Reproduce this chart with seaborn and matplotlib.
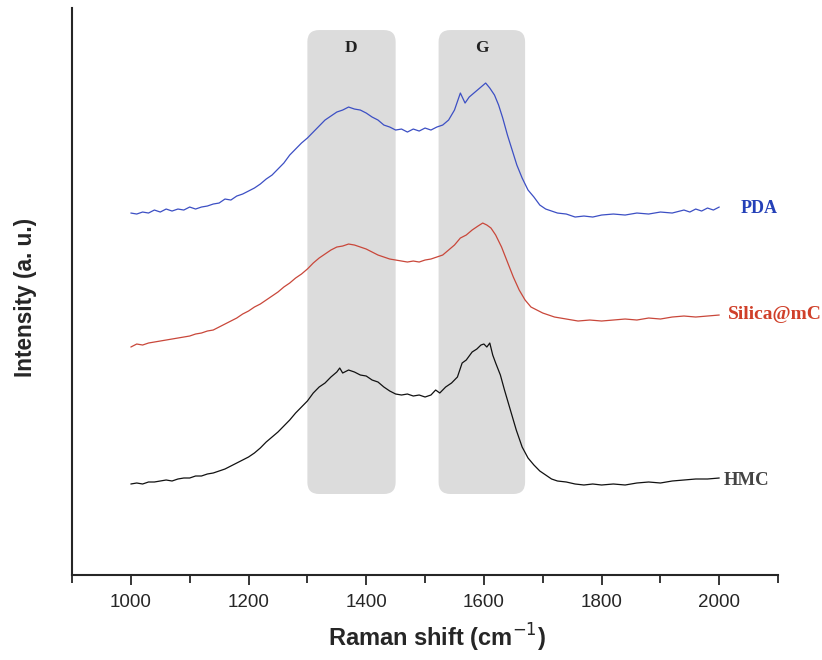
import numpy as np
import pandas as pd
import seaborn as sns
from matplotlib import pyplot as plt
from matplotlib.patches import FancyBboxPatch

# 数据（从图中读取，强度为任意单位）
pda_x = [1000, 1010, 1020, 1030, 1040, 1050, 1060, 1070, 1080, 1090, 1100, 1110, 1120, 1130,
         1140, 1150, 1160, 1170, 1180, 1190, 1200, 1210, 1220, 1230, 1240, 1250, 1260, 1270,
         1280, 1290, 1300, 1310, 1320, 1330, 1340, 1350, 1360, 1370, 1380, 1390, 1400, 1410,
         1420, 1430, 1440, 1450, 1460, 1470, 1480, 1490, 1500, 1510, 1520, 1530, 1540, 1550,
         1560, 1568, 1575, 1585, 1595, 1603, 1610, 1618, 1625, 1632, 1640, 1648, 1656, 1665,
         1675, 1685, 1695, 1705, 1715, 1725, 1740, 1755, 1770, 1785, 1800, 1820, 1840, 1860,
         1880, 1900, 1920, 1940, 1950, 1960, 1970, 1980, 1990, 2000]
pda_y = [362, 361, 363, 362, 365, 363, 366, 364, 366, 365, 368, 366, 368, 369,
         371, 372, 376, 375, 379, 381, 384, 387, 391, 396, 400, 406, 412, 420,
         426, 432, 437, 443, 449, 455, 459, 463, 465, 468, 466, 465, 462, 458,
         455, 450, 448, 445, 446, 443, 446, 444, 447, 445, 448, 450, 455, 465,
         482, 472, 478, 483, 488, 492, 487, 480, 470, 457, 440, 425, 410, 397,
         385, 378, 370, 366, 364, 362, 361, 358, 359, 358, 360, 361, 360, 362,
         361, 363, 362, 365, 363, 366, 364, 367, 365, 368]

silica_x = [1000, 1010, 1020, 1030, 1040, 1050, 1060, 1070, 1080, 1090, 1100, 1110, 1120, 1130,
            1140, 1150, 1160, 1170, 1180, 1190, 1200, 1210, 1220, 1230, 1240, 1250, 1260, 1270,
            1280, 1290, 1300, 1310, 1320, 1330, 1340, 1350, 1360, 1370, 1380, 1390, 1400, 1410,
            1420, 1430, 1440, 1450, 1460, 1470, 1480, 1490, 1500, 1510, 1520, 1530, 1540, 1550,
            1560, 1570, 1580, 1590, 1598, 1605, 1612, 1620, 1630, 1640, 1650, 1660, 1670, 1680,
            1690, 1700, 1710, 1720, 1740, 1760, 1780, 1800, 1820, 1840, 1860, 1880, 1900, 1920,
            1940, 1960, 1980, 2000]
silica_y = [228, 231, 230, 232, 233, 234, 235, 236, 237, 238, 239, 241, 242, 244,
            245, 248, 251, 254, 257, 261, 264, 268, 271, 275, 279, 283, 288, 292,
            297, 301, 306, 312, 317, 321, 325, 328, 329, 331, 330, 328, 326, 323,
            320, 318, 316, 315, 314, 313, 314, 313, 315, 316, 318, 320, 325, 330,
            337, 340, 345, 349, 352, 350, 347, 340, 328, 313, 298, 285, 275, 268,
            265, 262, 260, 258, 256, 254, 255, 254, 255, 256, 255, 257, 256, 258,
            259, 258, 259, 260]

hmc_x = [1000, 1010, 1020, 1030, 1040, 1050, 1060, 1070, 1080, 1090, 1100, 1110, 1120, 1130,
         1140, 1150, 1160, 1170, 1180, 1190, 1200, 1210, 1220, 1230, 1240, 1250, 1260, 1270,
         1280, 1290, 1300, 1310, 1320, 1330, 1340, 1350, 1355, 1360, 1370, 1380, 1390, 1400,
         1410, 1420, 1430, 1440, 1450, 1460, 1470, 1480, 1490, 1500, 1510, 1518, 1525, 1535,
         1545, 1555, 1563, 1570, 1580, 1588, 1595, 1600, 1605, 1610, 1615, 1620, 1628, 1635,
         1645, 1655, 1665, 1675, 1685, 1695, 1705, 1715, 1725, 1740, 1755, 1770, 1785, 1800,
         1820, 1840, 1860, 1880, 1900, 1920, 1940, 1960, 1980, 2000]
hmc_y = [91, 92, 91, 93, 93, 94, 95, 94, 96, 97, 97, 99, 99, 101,
         102, 104, 106, 109, 112, 115, 118, 122, 127, 133, 138, 143, 149, 155,
         162, 168, 174, 182, 188, 192, 198, 203, 207, 202, 205, 203, 200, 199,
         195, 193, 188, 184, 181, 180, 181, 179, 180, 178, 180, 185, 182, 188,
         192, 198, 212, 215, 223, 226, 230, 231, 228, 232, 220, 212, 200, 185,
         165, 145, 128, 117, 110, 104, 100, 96, 94, 93, 91, 90, 91, 90,
         91, 90, 92, 93, 92, 94, 95, 96, 96, 97]

bands = ['D', 'G']
band_lo = [1300, 1523]
band_hi = [1450, 1670]

sns.set_style('ticks')
plt.rcParams['font.family'] = ['Liberation Sans', 'DejaVu Sans']
serif = ['Liberation Serif', 'DejaVu Serif']

fig = plt.figure(figsize=(8.22, 6.6), dpi=100)
ax = fig.add_axes([0.0876, 0.1288, 0.859, 0.859])

# 灰色圆角区域 D / G
for name, lo, hi in zip(bands, band_lo, band_hi):
    box = FancyBboxPatch((lo, 81), hi - lo, 464,
                         boxstyle='round,pad=0,rounding_size=20',
                         mutation_aspect=0.587, facecolor='#dcdcdc',
                         edgecolor='none', zorder=0)
    ax.add_patch(box)
    ax.text((lo + hi) / 2, 527, name, ha='center', va='center', fontsize=12.5,
            fontweight='bold', family=serif, color='#222222')

sns.lineplot(x=pda_x, y=pda_y, ax=ax, color='#3c4fc4', lw=0.9)
sns.lineplot(x=silica_x, y=silica_y, ax=ax, color='#c9473a', lw=0.9)
sns.lineplot(x=hmc_x, y=hmc_y, ax=ax, color='#111111', lw=0.9)

ax.text(2037, 367, 'PDA', color='#2440b8', fontsize=13, fontweight='bold', va='center', family=serif)
ax.text(2014, 261, 'Silica@mC', color='#d0402a', fontsize=14, fontweight='bold', va='center', family=serif)
ax.text(2008, 95, 'HMC', color='#444444', fontsize=13.5, fontweight='bold', va='center', family=serif)

ax.set_xlim(900, 2100)
ax.set_ylim(0, 567)
ax.set_xticks(range(1000, 2001, 200))
ax.set_xticks(range(900, 2101, 200), minor=True)
ax.set_yticks([])
ax.tick_params(axis='x', which='major', length=7, width=1.3, labelsize=13.5, pad=7)
ax.tick_params(axis='x', which='minor', length=6, width=1.3)
for s in ['top', 'right']:
    ax.spines[s].set_visible(False)
for s in ['left', 'bottom']:
    ax.spines[s].set_linewidth(1.5)

ax.set_xlabel('Raman shift (cm$^{-1}$)', fontsize=17, fontweight='bold')
ax.set_ylabel('Intensity (a. u.)', fontsize=16.3, fontweight='bold')
ax.xaxis.set_label_coords(0.517, -0.083)
ax.yaxis.set_label_coords(-0.0496, 0.49)

plt.savefig('out.png', dpi=100)
